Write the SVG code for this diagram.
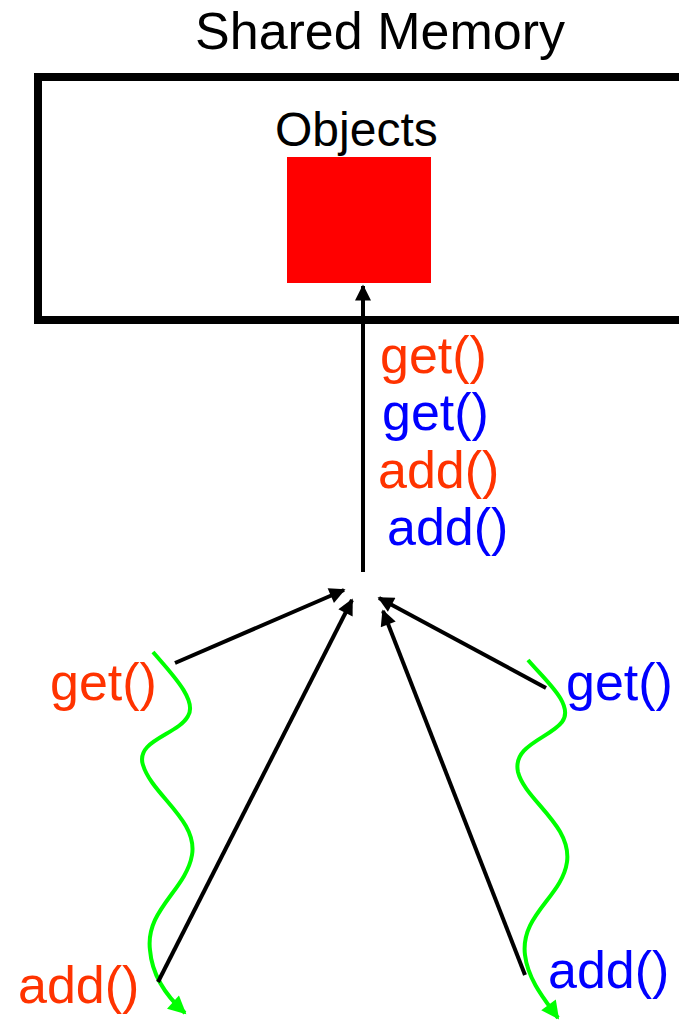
<svg xmlns="http://www.w3.org/2000/svg" width="679" height="1022" viewBox="0 0 679 1022">
<style>
text{font-family:"Liberation Sans",Arial,sans-serif;font-size:52px}
.r{fill:#FF3300}.b{fill:#0000FF}
.k{stroke:#000;stroke-width:4;fill:none}
.g{stroke:#00FF00;stroke-width:4;fill:none}
</style>
<defs>
<marker id="ak" viewBox="0 0 10 10" refX="9" refY="5" markerWidth="5" markerHeight="4" orient="auto" markerUnits="strokeWidth"><path d="M0,0L10,5L0,10z" fill="#000"/></marker>
<marker id="ag" viewBox="0 0 10 10" refX="9" refY="5" markerWidth="5" markerHeight="4.5" orient="auto" markerUnits="strokeWidth"><path d="M0,0L10,5L0,10z" fill="#00FF00"/></marker>
</defs>
<rect width="679" height="1022" fill="#fff"/>
<text x="380" y="49" text-anchor="middle">Shared Memory</text>
<g id="memory"><rect x="38" y="77" width="700" height="243" fill="none" stroke="#000" stroke-width="8"/></g>
<g id="objects"><text x="275" y="146" style="font-size:48px">Objects</text><rect x="287" y="157" width="144" height="126" fill="#FF0000"/></g>
<g id="labels">
<text class="r" x="380" y="373">get()</text>
<text class="b" x="382" y="430">get()</text>
<text class="r" x="378" y="488">add()</text>
<text class="b" x="387" y="545">add()</text>
<text class="r" x="50" y="700">get()</text>
<text class="r" x="18" y="1003">add()</text>
<text class="b" x="566" y="700">get()</text>
<text class="b" x="548" y="988">add()</text>
</g>
<g id="threads">
<path class="g" d="M153,652 C170,672 198,700 188,716 C178,735 135,740 143,765 C152,795 198,820 192,855 C186,890 145,910 150,950 C152,975 165,995 185,1013" marker-end="url(#ag)"/>
<path class="g" d="M528,660 C545,680 575,705 562,722 C550,738 512,745 518,772 C525,800 572,825 567,862 C562,897 520,915 525,955 C528,980 545,1000 558,1018" marker-end="url(#ag)"/>
</g>
<g id="connectors">
<line class="k" x1="363" y1="572" x2="363" y2="286" marker-end="url(#ak)"/>
<line class="k" x1="175" y1="663" x2="344" y2="590" marker-end="url(#ak)"/>
<line class="k" x1="158" y1="982" x2="352" y2="600" marker-end="url(#ak)"/>
<line class="k" x1="546" y1="688" x2="379" y2="598" marker-end="url(#ak)"/>
<line class="k" x1="525" y1="975" x2="383" y2="611" marker-end="url(#ak)"/>
</g>
</svg>
